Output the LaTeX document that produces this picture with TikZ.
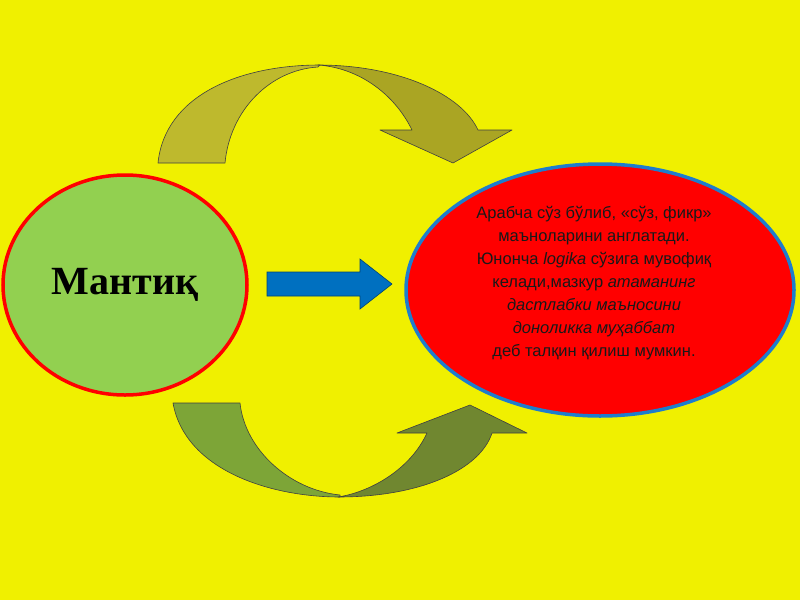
\documentclass[tikz,border=0pt]{standalone}
\usepackage{fontspec}
\setmainfont{Liberation Sans}
\newfontfamily\timescyr{Liberation Serif}
\usepackage{xcolor}
\usetikzlibrary{shapes.geometric}

\definecolor{bgyellow}{RGB}{240,240,0}
\definecolor{leafgreen}{RGB}{146,208,80}
\definecolor{rimblue}{RGB}{30,125,205}
\definecolor{arrowblue}{RGB}{0,112,192}
\definecolor{oliveA}{RGB}{190,185,45}
\definecolor{oliveB}{RGB}{170,165,35}
\definecolor{mossA}{RGB}{125,165,55}
\definecolor{mossB}{RGB}{112,135,48}

\tikzset{
  blob/.style={ellipse, line width=3.5pt, inner sep=0pt},
  bandarrow/.style={draw=black!75, line width=0.6pt, line join=round}
}

\begin{document}
\begin{tikzpicture}[x=1pt, y=-1pt, every node/.style={font=\fontsize{16.5}{23}\selectfont}]
    % Background
    \fill[bgyellow] (0,0) rectangle (800,600);
    \useasboundingbox (0,0) rectangle (800,600);

    % Left ellipse
    \node[blob, draw=red, fill=leafgreen, minimum width=244pt, minimum height=220pt]
        (mantiq) at (125,285) {\timescyr\bfseries\fontsize{40}{40}\selectfont Мантиқ};

    % Right ellipse
    \node[blob, draw=rimblue, fill=red, minimum width=388pt, minimum height=252pt]
        (tavsif) at (600,290) {};
    \node[align=center, text=black!90] (matn) at (594,283) {%
        Арабча сўз бўлиб, «сўз, фикр»\\
        маъноларини англатади.\\
        Юнонча \textit{logika} сўзига мувофиқ\\
        келади,мазкур \textit{атаманинг}\\
        \textit{дастлабки маъносини}\\
        \textit{доноликка муҳаббат}\\
        деб талқин қилиш мумкин.};

    % Straight arrow between the ellipses
    \coordinate (shaftL) at (267,272);
    \coordinate (tip) at (392,284);
    \draw[fill=arrowblue, draw=arrowblue!60!black, line width=0.6pt, line join=miter]
        (shaftL) -- (360,272) -- (360,259) -- (tip) -- (360,309) -- (360,296)
        -- (267,296) -- cycle;

    % Upper curved arrow (back band, then front band with head)
    \draw[bandarrow, fill=oliveA]
        (158,163) .. controls (165,95) and (240,65) .. (320,65)
        -- (318,67) .. controls (270,70) and (230,110) .. (225,163) -- cycle;
    \draw[bandarrow, fill=oliveB]
        (318,65) .. controls (400,65) and (462,95) .. (478,130)
        -- (512,130) -- (453,163) -- (380,130) -- (412,130)
        .. controls (395,95) and (360,68) .. (318,65) -- cycle;

    % Lower curved arrow (back band, then front band with head)
    \draw[bandarrow, fill=mossA]
        (173,403) .. controls (185,470) and (270,497) .. (340,497)
        -- (340,495) .. controls (290,490) and (245,450) .. (240,403) -- cycle;
    \draw[bandarrow, fill=mossB]
        (338,497) .. controls (420,497) and (480,470) .. (492,433)
        -- (527,433) -- (470,405) -- (397,433) -- (427,433)
        .. controls (410,470) and (370,492) .. (338,497) -- cycle;
\end{tikzpicture}
\end{document}
